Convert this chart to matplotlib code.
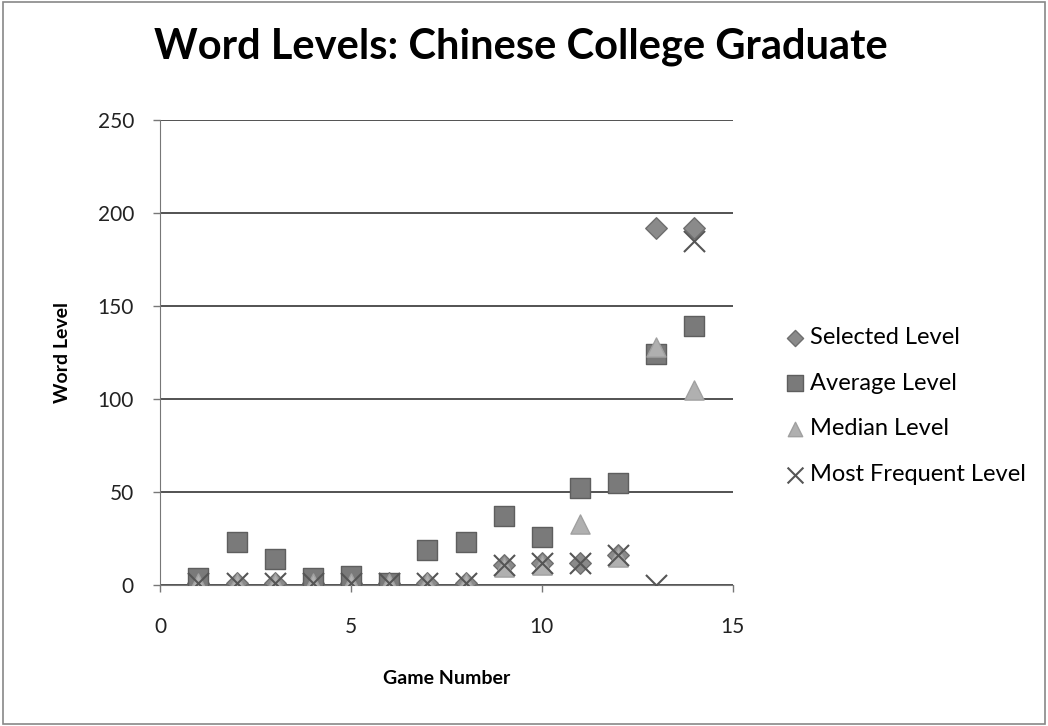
import matplotlib.pyplot as plt

plt.rcParams['font.family'] = ['Lato', 'DejaVu Sans']

games = [1, 2, 3, 4, 5, 6, 7, 8, 9, 10, 11, 12, 13, 14]
selected = [1, 1, 1, 1, 1, 1, 1, 1, 11, 12, 12, 16, 192, 192]
average = [4, 23, 14, 4, 5, 1, 19, 23, 37, 26, 52, 55, 124, 139]
median = [1, 1, 1, 1, 1, 1, 1, 1, 10, 11, 33, 15, 128, 105]
most_freq = [1, 1, 1, 1, 1, 1, 1, 1, 11, 12, 12, 16, 0, 185]

fig = plt.figure(figsize=(10.48, 7.26), dpi=100)
ax = fig.add_axes([0.153, 0.194, 0.546, 0.641])

ax.scatter(games, selected, marker='D', s=120, color='#8a8a8a', edgecolors='#6e6e6e',
           label='Selected Level', zorder=3)
ax.scatter(games, average, marker='s', s=220, color='#7a7a7a', edgecolors='#5e5e5e',
           label='Average Level', zorder=3)
ax.scatter(games, median, marker='^', s=190, color='#b0b0b0', edgecolors='#a0a0a0',
           label='Median Level', zorder=4)
ax.scatter(games, most_freq, marker='x', s=230, color='#555555', linewidths=1.5,
           label='Most Frequent Level', zorder=5)

ax.set_xlim(0, 15)
ax.set_ylim(0, 250)
ax.set_xticks([0, 5, 10, 15])
ax.set_yticks([0, 50, 100, 150, 200, 250])
ax.yaxis.grid(True, color='#444444', linewidth=1.3)
ax.set_axisbelow(True)
for side in ['top', 'right']:
    ax.spines[side].set_visible(False)
ax.spines['left'].set_color('#777777')
ax.spines['bottom'].set_color('#777777')
ax.tick_params(axis='both', labelsize=15, colors='#222222', length=5, width=1,
               direction='out')
ax.tick_params(axis='x', pad=18)
ax.tick_params(axis='y', pad=14)
ax.tick_params(axis='both', color='#777777')

ax.set_xlabel('Game Number', fontsize=14, fontweight='bold', labelpad=24)
ax.set_ylabel('Word Level', fontsize=14, fontweight='bold', labelpad=19)
fig.text(0.497, 0.935, 'Word Levels: Chinese College Graduate', ha='center', va='center',
         fontsize=30, fontweight='bold')

leg = ax.legend(loc='center left', bbox_to_anchor=(1.05, 0.385), frameon=False, fontsize=17,
                handletextpad=0.05, labelspacing=1.05, markerscale=0.75, handlelength=1.1)

# outer border of the chart
fig.patches.append(plt.Rectangle((0.003, 0.003), 0.994, 0.994, transform=fig.transFigure,
                                 fill=False, edgecolor='#888888', linewidth=1.2))

fig.savefig('out.png', dpi=100)
